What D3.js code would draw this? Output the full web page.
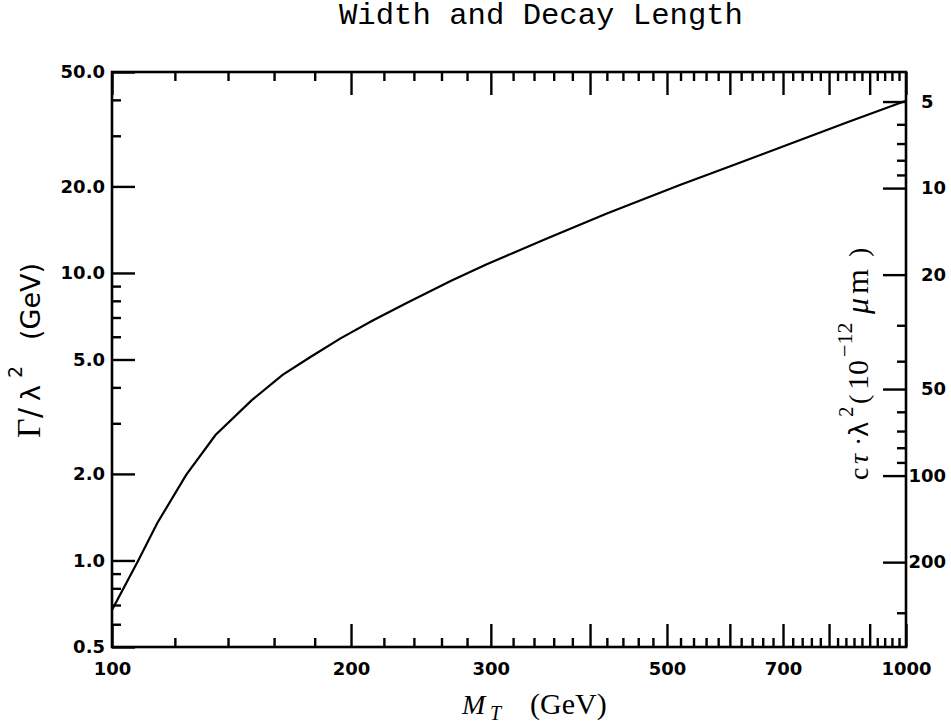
<!DOCTYPE html>
<html>
<head>
<meta charset="utf-8">
<script src="https://cdn.jsdelivr.net/npm/d3@7"></script>
<style>
  body { margin: 0; background: #fff; }
  svg text { fill: #000; }
  .tick text { font-family: "DejaVu Sans", sans-serif; font-weight: bold; font-size: 18px; }
</style>
</head>
<body>
<svg id="chart" width="951" height="725"></svg>
<script>
// curve: M_T (GeV) vs Gamma/lambda^2 (GeV)
const massGeV  = [100, 108, 114, 124, 135, 150, 164, 178, 194, 213, 235, 267, 296, 353, 420, 519, 595, 708, 842, 1000];
const widthGeV = [0.672, 1.004, 1.347, 1.984, 2.73, 3.61, 4.42, 5.11, 5.92, 6.83, 7.86, 9.37, 10.70, 13.18, 16.10, 20.23, 23.27, 27.86, 33.38, 39.74];

const xLabels = [100, 200, 300, 500, 700, 1000];
const xMajor = [100, 200, 300, 400, 500, 600, 700, 800, 900, 1000];
const yLabels = [0.5, 1, 2, 5, 10, 20, 50];
const yMinor = [0.6, 0.7, 0.8, 0.9, 3, 4, 6, 7, 8, 9, 30, 40];
const ctauLabels = [5, 10, 20, 50, 100, 200];
const ctauMinor = [6, 7, 8, 9, 30, 40, 60, 70, 80, 90, 300];
const hbarc = 197.327; // GeV * 1e-12 um

const L = 112, R = 906, T = 72, B = 647;
const svg = d3.select("#chart");

const x = d3.scaleLog().domain([100, 1000]).range([L, R]);
const y = d3.scaleLog().domain([0.5, 50]).range([B, T]);
// right axis: c*tau*lambda^2 = hbar*c / Gamma
const yR = d3.scaleLog().domain([hbarc / 0.5, hbarc / 50]).range([B, T]);

function ax(axis, tx, ty) {
  const g = svg.append("g").attr("transform", `translate(${tx},${ty})`).call(axis);
  g.select(".domain").remove();
  g.selectAll("line").attr("stroke", "#000").attr("stroke-width", 2.4);
  return g;
}

const xMinor = d3.range(120, 1000, 20).filter(d => d % 100 !== 0);

// bottom
ax(d3.axisBottom(x).tickValues(xMajor).tickSizeInner(-23).tickSizeOuter(0).tickPadding(15)
  .tickFormat(d => xLabels.includes(d) ? d : ""), 0, B);
ax(d3.axisBottom(x).tickValues(xMinor).tickSizeInner(-9).tickSizeOuter(0).tickFormat(""), 0, B);
// top
ax(d3.axisTop(x).tickValues(xMajor).tickSizeInner(-23).tickSizeOuter(0).tickFormat(""), 0, T);
ax(d3.axisTop(x).tickValues(xMinor).tickSizeInner(-9).tickSizeOuter(0).tickFormat(""), 0, T);
// left
ax(d3.axisLeft(y).tickValues(yLabels).tickSizeInner(-23).tickSizeOuter(0).tickPadding(7)
  .tickFormat(d3.format(".1f")), L, 0);
ax(d3.axisLeft(y).tickValues(yMinor).tickSizeInner(-9).tickSizeOuter(0).tickFormat(""), L, 0);
// right (single digit padded like the original)
const gr = ax(d3.axisRight(yR).tickValues(ctauLabels).tickSizeInner(-23).tickSizeOuter(0)
  .tickFormat(d => d < 10 ? d + "\u2007" : d), R, 0);
gr.selectAll("text").attr("x", 40).attr("text-anchor", "end");
ax(d3.axisRight(yR).tickValues(ctauMinor).tickSizeInner(-9).tickSizeOuter(0).tickFormat(""), R, 0);

// frame
svg.append("rect").attr("x", L).attr("y", T).attr("width", R - L).attr("height", B - T)
  .attr("fill", "none").attr("stroke", "#000").attr("stroke-width", 2.6);

// curve
const line = d3.line().x(d => x(d[0])).y(d => y(d[1]));
svg.append("path").datum(d3.zip(massGeV, widthGeV)).attr("d", line)
  .attr("fill", "none").attr("stroke", "#000").attr("stroke-width", 2.2);

// title
svg.append("text").attr("x", 541).attr("y", 24).attr("text-anchor", "middle")
  .attr("font-family", "Liberation Mono, monospace").attr("font-size", 29)
  .attr("textLength", 404).attr("lengthAdjust", "spacingAndGlyphs")
  .text("Width and Decay Length");

// x label
const xl = svg.append("text").attr("y", 714)
  .attr("font-family", "Liberation Serif, serif").attr("font-size", 28);
xl.append("tspan").attr("x", 462).attr("font-style", "italic").text("M");
xl.append("tspan").attr("x", 490).attr("font-style", "italic").attr("font-size", 20).attr("dy", 6).text("T");
xl.append("tspan").attr("x", 530).attr("font-size", 30).attr("dy", -6).text("(GeV)");

// left y label (rotated; x runs up the page)
const yl = svg.append("text").attr("transform", "translate(40,440) rotate(-90)")
  .attr("font-family", "DejaVu Sans, sans-serif").attr("font-size", 27);
yl.append("tspan").attr("x", 2).attr("font-family", "Liberation Serif, serif").attr("font-size", 34).text("Γ");
yl.append("tspan").attr("x", 22).attr("font-size", 30).text("/");
yl.append("tspan").attr("x", 39).text("λ");
yl.append("tspan").attr("x", 62).attr("font-size", 19).attr("dy", -18).text("2");
yl.append("tspan").attr("x", 100).attr("dy", 18).text("(GeV)");

// right y label
const yr = svg.append("text").attr("transform", "translate(868,484) rotate(-90)")
  .attr("font-family", "Liberation Serif, serif").attr("font-size", 28);
yr.append("tspan").attr("x", 4).text("c");
yr.append("tspan").attr("x", 20).attr("font-style", "italic").text("τ");
yr.append("tspan").attr("x", 38).text("·");
yr.append("tspan").attr("x", 47).attr("font-family", "DejaVu Sans, sans-serif").attr("font-size", 26).text("λ");
yr.append("tspan").attr("x", 67).attr("font-size", 21).attr("dy", -15).text("2");
yr.append("tspan").attr("x", 80).attr("dy", 15).text("(");
yr.append("tspan").attr("x", 94).attr("font-size", 30).text("10");
yr.append("tspan").attr("x", 127).attr("font-size", 22).attr("dy", -16).text("−12");
yr.append("tspan").attr("x", 170).attr("font-size", 32).attr("font-style", "italic").attr("dy", 16).text("μ");
yr.append("tspan").attr("x", 190).attr("font-size", 32).text("m");
yr.append("tspan").attr("x", 227).text(")");
</script>
</body>
</html>
